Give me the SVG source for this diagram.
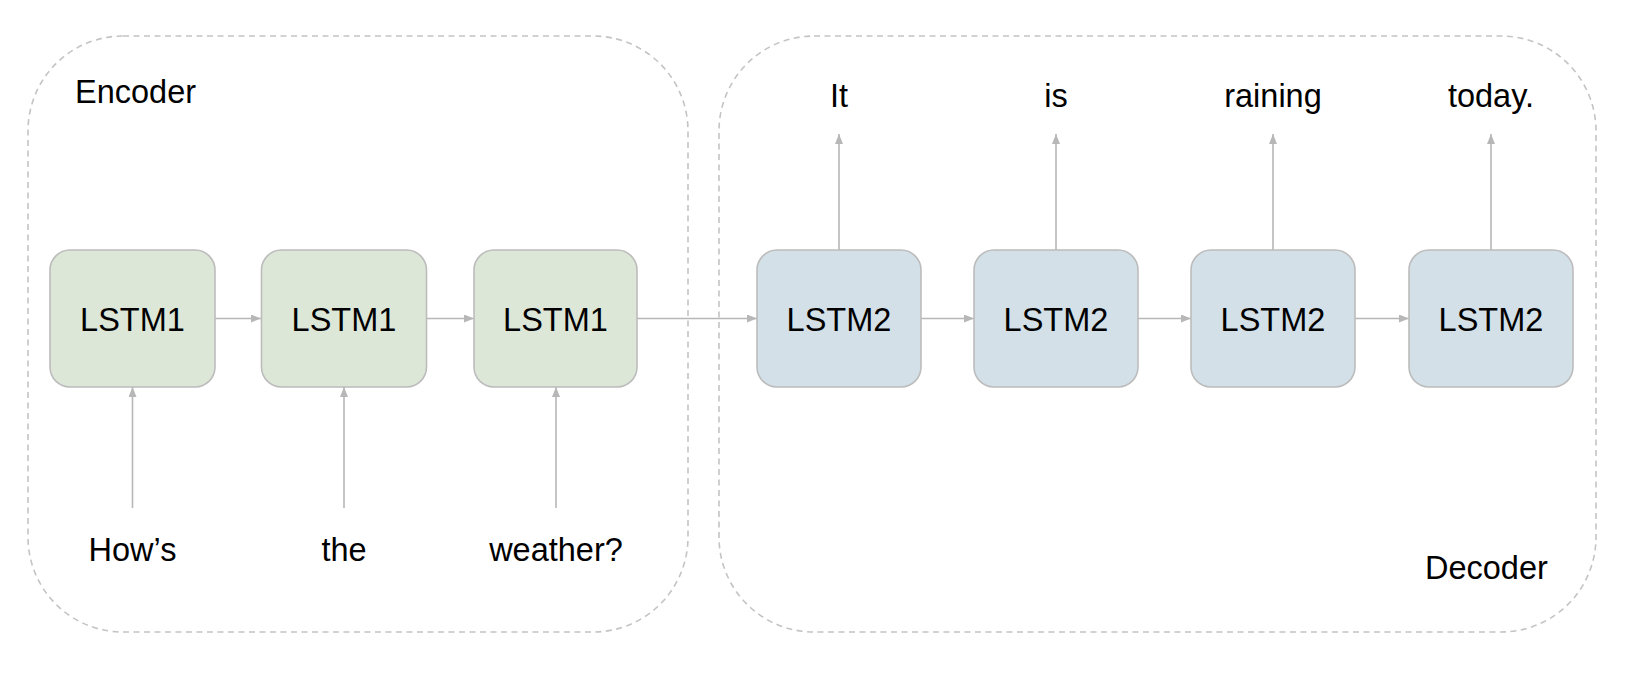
<svg xmlns="http://www.w3.org/2000/svg" width="1627" height="679" viewBox="0 0 1627 679">
<style>
.grp{fill:none;stroke:#c4c4c4;stroke-width:1.6;stroke-dasharray:6 4.5}
.enc{fill:#dde7d8;stroke:#bcbcbc;stroke-width:1.6}
.dec{fill:#d3e0e7;stroke:#bcbcbc;stroke-width:1.6}
.lbl{font-family:"Liberation Sans",Arial,sans-serif;font-size:32.5px;fill:#000}
.mid{text-anchor:middle}
.con{stroke:#b7b7b7;stroke-width:1.6;fill:none;marker-end:url(#ah)}
</style>
<defs>
<marker id="ah" viewBox="0 0 10 8" refX="10" refY="4" markerWidth="10" markerHeight="8" markerUnits="userSpaceOnUse" orient="auto">
<path d="M0,0 L10,4 L0,8 z" fill="#b7b7b7"/>
</marker>
</defs>
<rect width="1627" height="679" fill="#fff"/>
<g id="encoder-group">
<rect class="grp" x="28" y="36" width="660" height="596" rx="95" ry="95"/>
<text class="lbl" x="75" y="103">Encoder</text>
</g>
<g id="decoder-group">
<rect class="grp" x="719" y="36" width="877" height="596" rx="95" ry="95"/>
<text class="lbl" x="1425" y="579">Decoder</text>
</g>
<g id="connectors">
<line class="con" x1="215" y1="318.5" x2="261" y2="318.5"/>
<line class="con" x1="427" y1="318.5" x2="474" y2="318.5"/>
<line class="con" x1="637" y1="318.5" x2="757" y2="318.5"/>
<line class="con" x1="921" y1="318.5" x2="974" y2="318.5"/>
<line class="con" x1="1138" y1="318.5" x2="1191" y2="318.5"/>
<line class="con" x1="1355" y1="318.5" x2="1409" y2="318.5"/>
<line class="con" x1="132.5" y1="508" x2="132.5" y2="387"/>
<line class="con" x1="344" y1="508" x2="344" y2="387"/>
<line class="con" x1="556" y1="508" x2="556" y2="387"/>
<line class="con" x1="839" y1="250" x2="839" y2="134"/>
<line class="con" x1="1056" y1="250" x2="1056" y2="134"/>
<line class="con" x1="1273" y1="250" x2="1273" y2="134"/>
<line class="con" x1="1491" y1="250" x2="1491" y2="134"/>
</g>
<g id="lstm1-a"><rect class="enc" x="50" y="250" width="165" height="137" rx="20"/><text class="lbl mid" x="132.5" y="331">LSTM1</text></g>
<g id="lstm1-b"><rect class="enc" x="261.5" y="250" width="165" height="137" rx="20"/><text class="lbl mid" x="344" y="331">LSTM1</text></g>
<g id="lstm1-c"><rect class="enc" x="474" y="250" width="163" height="137" rx="20"/><text class="lbl mid" x="555.5" y="331">LSTM1</text></g>
<g id="lstm2-a"><rect class="dec" x="757" y="250" width="164" height="137" rx="20"/><text class="lbl mid" x="839" y="331">LSTM2</text></g>
<g id="lstm2-b"><rect class="dec" x="974" y="250" width="164" height="137" rx="20"/><text class="lbl mid" x="1056" y="331">LSTM2</text></g>
<g id="lstm2-c"><rect class="dec" x="1191" y="250" width="164" height="137" rx="20"/><text class="lbl mid" x="1273" y="331">LSTM2</text></g>
<g id="lstm2-d"><rect class="dec" x="1409" y="250" width="164" height="137" rx="20"/><text class="lbl mid" x="1491" y="331">LSTM2</text></g>
<g id="inputs">
<text class="lbl mid" x="132.5" y="561">How’s</text>
<text class="lbl mid" x="344" y="561">the</text>
<text class="lbl mid" x="556" y="561">weather?</text>
</g>
<g id="outputs">
<text class="lbl mid" x="839" y="107">It</text>
<text class="lbl mid" x="1056" y="107">is</text>
<text class="lbl mid" x="1273" y="107">raining</text>
<text class="lbl mid" x="1491" y="107">today.</text>
</g>
</svg>
